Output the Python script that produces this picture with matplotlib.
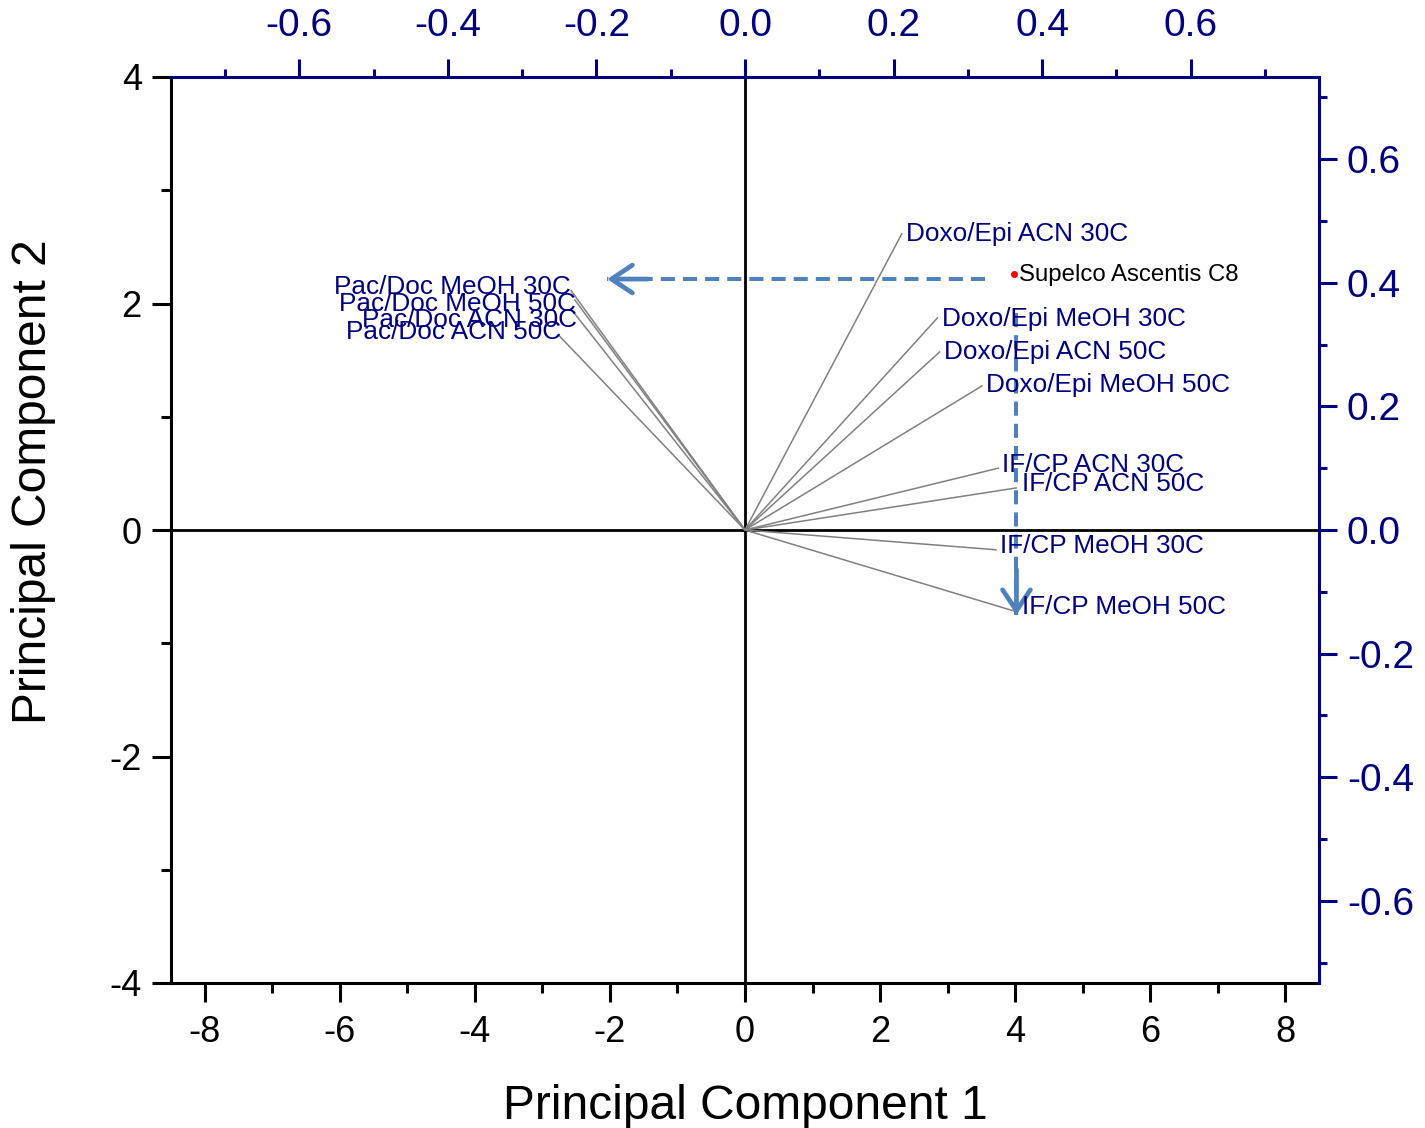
import matplotlib
matplotlib.use("Agg")
import matplotlib.pyplot as plt
from matplotlib.ticker import MultipleLocator, FormatStrFormatter

plt.rcParams["font.family"] = ["Liberation Sans", "DejaVu Sans"]
plt.rcParams["axes.unicode_minus"] = False

NAVY = "#000080"
ARROW = "#4F81BD"

# Variable loadings (top / right axes)
variables = [
    "Doxo/Epi ACN 30C", "Doxo/Epi MeOH 30C", "Doxo/Epi ACN 50C", "Doxo/Epi MeOH 50C",
    "IF/CP ACN 30C", "IF/CP ACN 50C", "IF/CP MeOH 30C", "IF/CP MeOH 50C",
    "Pac/Doc MeOH 30C", "Pac/Doc MeOH 50C", "Pac/Doc ACN 30C", "Pac/Doc ACN 50C",
]
load_pc1 = [0.211, 0.259, 0.262, 0.319, 0.341, 0.365, 0.338, 0.362,
            -0.234, -0.229, -0.230, -0.250]
load_pc2 = [0.479, 0.343, 0.288, 0.233, 0.100, 0.068, -0.032, -0.131,
            0.387, 0.372, 0.351, 0.314]

# Column score (bottom / left axes)
column_name = "Supelco Ascentis C8"
score_pc1 = 3.99
score_pc2 = 2.26

# Projection guides onto the two components
proj_pc2 = 2.216
proj_pc1_start, proj_pc1_end = 3.55, -2.04
proj_pc1 = 4.02
proj_pc2_start, proj_pc2_end = 1.92, -0.75

# Label nudges (points) so overlapping names stay where they sit
label_offsets = {
    "Doxo/Epi ACN 30C": (3, 0), "Doxo/Epi MeOH 30C": (3, -1),
    "Doxo/Epi ACN 50C": (3, 0), "Doxo/Epi MeOH 50C": (3, 1),
    "IF/CP ACN 30C": (3, 2), "IF/CP ACN 50C": (4, 3),
    "IF/CP MeOH 30C": (3, 3), "IF/CP MeOH 50C": (6, 3),
    "Pac/Doc MeOH 30C": (0, 3), "Pac/Doc MeOH 50C": (1, -3),
    "Pac/Doc ACN 30C": (2, -5), "Pac/Doc ACN 50C": (1, 3),
}

W, H = 1425, 1128
fig = plt.figure(figsize=(W / 100, H / 100), dpi=100)
rect = [171 / W, 1 - 983 / H, (1319 - 171) / W, (983 - 77) / H]

ax = fig.add_axes(rect)
ax.set_xlim(-8.5, 8.5)
ax.set_ylim(-4, 4)
ax.xaxis.set_major_locator(MultipleLocator(2))
ax.xaxis.set_minor_locator(MultipleLocator(1))
ax.yaxis.set_major_locator(MultipleLocator(2))
ax.yaxis.set_minor_locator(MultipleLocator(1))
for side in ("top", "right"):
    ax.spines[side].set_visible(False)
for side in ("left", "bottom"):
    ax.spines[side].set_linewidth(2.2)
    ax.spines[side].set_color("black")
ax.tick_params(which="major", direction="out", length=14, width=2.2,
               labelsize=26, colors="black")
ax.tick_params(which="minor", direction="out", length=7, width=2.2)
ax.tick_params(axis="x", which="major", pad=9)
ax.tick_params(axis="y", which="major", pad=7)
ax.set_xlabel("Principal Component 1", fontsize=34.5)
ax.set_ylabel("Principal Component 2", fontsize=34.5)
ax.xaxis.set_label_coords(0.5, -0.111)
ax.yaxis.set_label_coords(-0.1, 0.553)

# Origin cross
ax.axhline(0, color="black", lw=2.0, zorder=1)
ax.axvline(0, color="black", lw=2.0, zorder=1)

# Loadings axes
axl = fig.add_axes(rect, frameon=True)
axl.patch.set_visible(False)
axl.set_xlim(-8.5 / 11, 8.5 / 11)
axl.set_ylim(-0.7327, 0.7327)
axl.xaxis.tick_top()
axl.yaxis.tick_right()
axl.xaxis.set_major_locator(MultipleLocator(0.2))
axl.xaxis.set_minor_locator(MultipleLocator(0.1))
axl.yaxis.set_major_locator(MultipleLocator(0.2))
axl.yaxis.set_minor_locator(MultipleLocator(0.1))
axl.xaxis.set_major_formatter(FormatStrFormatter("%.1f"))
axl.yaxis.set_major_formatter(FormatStrFormatter("%.1f"))
for side in ("left", "bottom"):
    axl.spines[side].set_visible(False)
for side in ("top", "right"):
    axl.spines[side].set_linewidth(2.2)
    axl.spines[side].set_color(NAVY)
axl.tick_params(which="major", direction="out", length=13, width=2.2,
                labelsize=28, colors=NAVY)
axl.tick_params(which="minor", direction="out", length=6, width=2.2, colors=NAVY)
axl.tick_params(axis="x", which="major", pad=11)
axl.tick_params(axis="y", which="major", pad=7)

for name, lx, ly in zip(variables, load_pc1, load_pc2):
    axl.plot([0, lx], [0, ly], color="#808080", lw=1.1, zorder=2)
    dx, dy = label_offsets[name]
    ha = "left" if lx > 0 else "right"
    axl.annotate(name, xy=(lx, ly), xytext=(dx, dy), textcoords="offset points",
                 ha=ha, va="center", fontsize=18.8, color=NAVY, zorder=4)

# Column score point
ax.plot([score_pc1], [score_pc2], "o", color="red", ms=4, zorder=5)
ax.annotate(column_name, xy=(score_pc1, score_pc2), xytext=(3, -0.5),
            textcoords="offset points", ha="left", va="center",
            fontsize=17.3, color="black", zorder=5)

# Dashed projection arrows
ax.plot([proj_pc1_start, proj_pc1_end], [proj_pc2, proj_pc2], color=ARROW,
        lw=2.9, linestyle=(0, (3.5, 2.0)), zorder=3)
ax.plot([proj_pc1, proj_pc1], [proj_pc2_start, proj_pc2_end], color=ARROW,
        lw=2.9, linestyle=(0, (3.5, 2.0)), zorder=3)
head = dict(arrowstyle="->,head_length=0.75,head_width=0.5", color=ARROW,
            lw=3.4, mutation_scale=20, shrinkA=0, shrinkB=0, capstyle="round",
            joinstyle="round")
ax.annotate("", xy=(proj_pc1_end, proj_pc2), xytext=(proj_pc1_end + 0.6, proj_pc2),
            arrowprops=head, zorder=3)
ax.annotate("", xy=(proj_pc1, proj_pc2_end), xytext=(proj_pc1, proj_pc2_end + 0.4),
            arrowprops=head, zorder=3)

fig.savefig("out.png", dpi=100)
